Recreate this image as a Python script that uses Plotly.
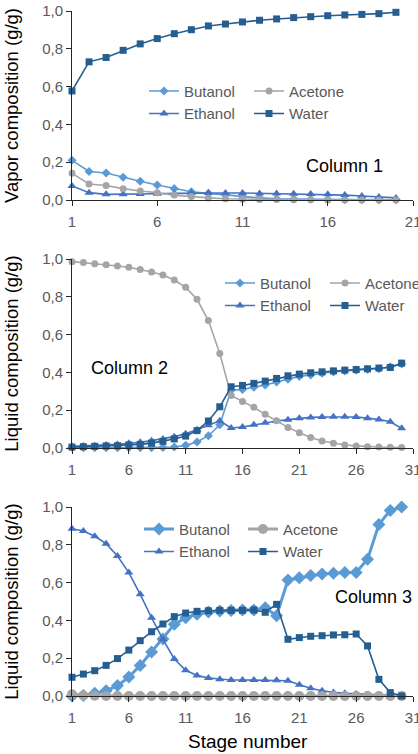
import plotly.graph_objects as go
from plotly.subplots import make_subplots

# ---------------- data ----------------
stages_c1 = list(range(1, 21))
stages_c23 = list(range(1, 31))

c1_butanol = [0.210, 0.151, 0.143, 0.120, 0.099, 0.079, 0.060, 0.044, 0.035, 0.026,
              0.018, 0.011, 0.007, 0.005, 0.004, 0.003, 0.002, 0.002, 0.001, 0.001]
c1_acetone = [0.141, 0.085, 0.077, 0.060, 0.048, 0.039, 0.026, 0.018, 0.011, 0.007,
              0.004, 0.003, 0.002, 0.001, 0.001, 0.000, 0.000, 0.000, 0.000, 0.000]
c1_ethanol = [0.074, 0.039, 0.030, 0.030, 0.032, 0.033, 0.035, 0.037, 0.037, 0.037,
              0.037, 0.035, 0.035, 0.033, 0.032, 0.030, 0.026, 0.021, 0.016, 0.011]
c1_water = [0.577, 0.731, 0.754, 0.792, 0.826, 0.854, 0.880, 0.901, 0.921, 0.931,
            0.942, 0.951, 0.958, 0.965, 0.970, 0.975, 0.979, 0.982, 0.986, 0.993]

c2_butanol = [0.003, 0.002, 0.002, 0.002, 0.002, 0.002, 0.002, 0.002, 0.003, 0.005,
              0.014, 0.032, 0.065, 0.123, 0.305, 0.310, 0.322, 0.333, 0.349, 0.364,
              0.379, 0.387, 0.396, 0.403, 0.408, 0.412, 0.415, 0.419, 0.430, 0.445]
c2_acetone = [0.986, 0.981, 0.975, 0.970, 0.963, 0.956, 0.945, 0.931, 0.915, 0.889,
              0.850, 0.787, 0.674, 0.500, 0.278, 0.246, 0.215, 0.178, 0.144, 0.109,
              0.081, 0.055, 0.037, 0.025, 0.016, 0.011, 0.007, 0.005, 0.004, 0.002]
c2_ethanol = [0.009, 0.011, 0.012, 0.016, 0.019, 0.025, 0.030, 0.039, 0.048, 0.060,
              0.076, 0.097, 0.121, 0.144, 0.106, 0.111, 0.123, 0.134, 0.143, 0.150,
              0.157, 0.162, 0.164, 0.165, 0.165, 0.164, 0.158, 0.151, 0.139, 0.104]
c2_water = [0.005, 0.007, 0.009, 0.011, 0.012, 0.016, 0.019, 0.026, 0.035, 0.048,
            0.063, 0.092, 0.143, 0.218, 0.324, 0.331, 0.342, 0.354, 0.368, 0.382,
            0.391, 0.398, 0.403, 0.408, 0.412, 0.415, 0.419, 0.423, 0.426, 0.449]

c3_butanol = [0.000, 0.002, 0.014, 0.028, 0.055, 0.100, 0.162, 0.233, 0.302, 0.379,
              0.414, 0.432, 0.444, 0.450, 0.453, 0.455, 0.455, 0.467, 0.425, 0.614,
              0.626, 0.637, 0.646, 0.649, 0.653, 0.653, 0.723, 0.908, 0.982, 1.000]
c3_acetone = [0.009, 0.003, 0.001, 0.000, 0.000, 0.000, 0.000, 0.000, 0.000, 0.000,
              0.000, 0.000, 0.000, 0.000, 0.000, 0.000, 0.000, 0.000, 0.000, 0.000,
              0.000, 0.000, 0.000, 0.000, 0.000, 0.000, 0.000, 0.000, 0.000, 0.000]
c3_ethanol = [0.885, 0.873, 0.845, 0.806, 0.741, 0.653, 0.538, 0.414, 0.300, 0.196,
              0.136, 0.109, 0.095, 0.088, 0.085, 0.085, 0.085, 0.085, 0.083, 0.081,
              0.060, 0.041, 0.028, 0.019, 0.014, 0.011, 0.007, 0.005, 0.004, 0.002]
c3_water = [0.099, 0.116, 0.134, 0.162, 0.198, 0.243, 0.293, 0.340, 0.381, 0.420,
            0.439, 0.448, 0.451, 0.453, 0.453, 0.453, 0.455, 0.443, 0.485, 0.300,
            0.309, 0.316, 0.319, 0.323, 0.324, 0.328, 0.265, 0.088, 0.018, 0.000]

y_titles = ["Vapor composition (g/g)", "Liquid composition (g/g)", "Liquid composition (g/g)"]
x_title = "Stage number"
panel_labels = ["Column 1", "Column 2", "Column 3"]

# ---------------- styling ----------------
C_BUT, C_ACE, C_ETH, C_WAT = "#5B9BD5", "#A5A5A5", "#4472C4", "#255E91"
FAM = "Liberation Sans, Arial, sans-serif"
TICK_FONT = dict(family=FAM, size=15, color="#595959")
YTITLE_FONT = dict(family=FAM, size=18.5, color="#000000")
XTITLE_FONT = dict(family=FAM, size=19, color="#000000")
LABEL_FONT = dict(family=FAM, size=18, color="#000000")
AXIS_COLOR = "#262626"

fig = make_subplots(rows=3, cols=1)

panels = [
    (stages_c1, c1_butanol, c1_acetone, c1_ethanol, c1_water),
    (stages_c23, c2_butanol, c2_acetone, c2_ethanol, c2_water),
    (stages_c23, c3_butanol, c3_acetone, c3_ethanol, c3_water),
]

legend_ids = [("legend", "legend2"), ("legend3", "legend4"), ("legend5", "legend6")]

for i, (x, but, ace, eth, wat) in enumerate(panels):
    row = i + 1
    thick = (i == 2)
    lgA, lgB = legend_ids[i]
    fig.add_trace(go.Scatter(x=x, y=but, name="Butanol", mode="lines+markers",
                             line=dict(color=C_BUT, width=3 if thick else 1.6),
                             marker=dict(symbol="diamond", size=10 if thick else 7, color=C_BUT),
                             cliponaxis=False, legend=lgA), row=row, col=1)
    fig.add_trace(go.Scatter(x=x, y=eth, name="Ethanol", mode="lines+markers",
                             line=dict(color=C_ETH, width=1.6),
                             marker=dict(symbol="triangle-up", size=8, color=C_ETH),
                             cliponaxis=False, legend=lgA), row=row, col=1)
    fig.add_trace(go.Scatter(x=x, y=ace, name="Acetone", mode="lines+markers",
                             line=dict(color=C_ACE, width=3 if thick else 1.6),
                             marker=dict(symbol="circle", size=10 if thick else 7, color=C_ACE),
                             cliponaxis=False, legend=lgB), row=row, col=1)
    fig.add_trace(go.Scatter(x=x, y=wat, name="Water", mode="lines+markers",
                             line=dict(color=C_WAT, width=1.6),
                             marker=dict(symbol="square", size=7, color=C_WAT),
                             cliponaxis=False, legend=lgB), row=row, col=1)

# figure geometry (pixels)
W, H = 418, 754
ML, MR, MT, MB = 72, 5, 11, 58
PW = W - ML - MR
PH = H - MT - MB
panel_px = [(11, 200), (259, 448), (507, 696)]  # top, bottom in pixels


def ydom(top, bot):
    return [(H - MB - bot) / PH, (H - MB - top) / PH]


x_ranges = [[1, 21], [1, 31], [1, 31]]
for i in range(3):
    xa = "xaxis" if i == 0 else f"xaxis{i+1}"
    ya = "yaxis" if i == 0 else f"yaxis{i+1}"
    fig.layout[xa].update(
        domain=[0, 1], range=x_ranges[i], tick0=1, dtick=5, showgrid=False, zeroline=False,
        showline=True, linecolor=AXIS_COLOR, linewidth=1, ticks="outside", ticklen=5,
        tickcolor=AXIS_COLOR, tickfont=TICK_FONT, automargin=False, ticklabelstandoff=3,
        ticklabeloverflow="allow",
    )
    fig.layout[ya].update(
        domain=ydom(*panel_px[i]), range=[0, 1], dtick=0.2, tickformat=".1f", showgrid=False,
        zeroline=False, showline=True, linecolor=AXIS_COLOR, linewidth=1, ticks="outside",
        ticklen=5, tickcolor=AXIS_COLOR, tickfont=TICK_FONT, automargin=False,
        ticklabeloverflow="allow",
        title=dict(text=y_titles[i], font=YTITLE_FONT, standoff=18),
    )

# x axis title of the bottom panel
fig.add_annotation(text=x_title, x=(248 - ML) / PW, y=(H - MB - 741) / PH, xref="paper",
                   yref="paper", showarrow=False, xanchor="center", yanchor="middle",
                   font=XTITLE_FONT)

# legends (two columns per panel, each a small vertical legend)
LEG_FONT = dict(family=FAM, size=15, color="#595959")
legend_px = [((144, 74.75), (249, 74.75)), ((220, 266.75), (325, 266.75)),
             ((139, 512.75), (243, 512.75))]
for i in range(3):
    for j in range(2):
        lid = legend_ids[i][j]
        px, py = legend_px[i][j]
        fig.layout[lid] = dict(x=(px - ML) / PW, y=(H - MB - py) / PH, xref="paper", yref="paper",
                               xanchor="left", yanchor="top", orientation="v",
                               bgcolor="rgba(0,0,0,0)", borderwidth=0, font=LEG_FONT)

# panel labels
label_pos = [(0.799, 0.18), (0.170, 0.425), (0.883, 0.524)]
for i in range(3):
    xr = "x domain" if i == 0 else f"x{i+1} domain"
    yr = "y domain" if i == 0 else f"y{i+1} domain"
    fig.add_annotation(text=panel_labels[i], x=label_pos[i][0], y=label_pos[i][1],
                       xref=xr, yref=yr, showarrow=False, xanchor="center", yanchor="middle",
                       font=LABEL_FONT)

fig.update_layout(
    width=W, height=H, margin=dict(l=ML, r=MR, t=MT, b=MB, autoexpand=False),
    paper_bgcolor="white", plot_bgcolor="white", separators=", ",
    showlegend=True,
)

fig.write_html("out.html", config={"displayModeBar": False},
               post_script="document.body.style.margin='0px';")
